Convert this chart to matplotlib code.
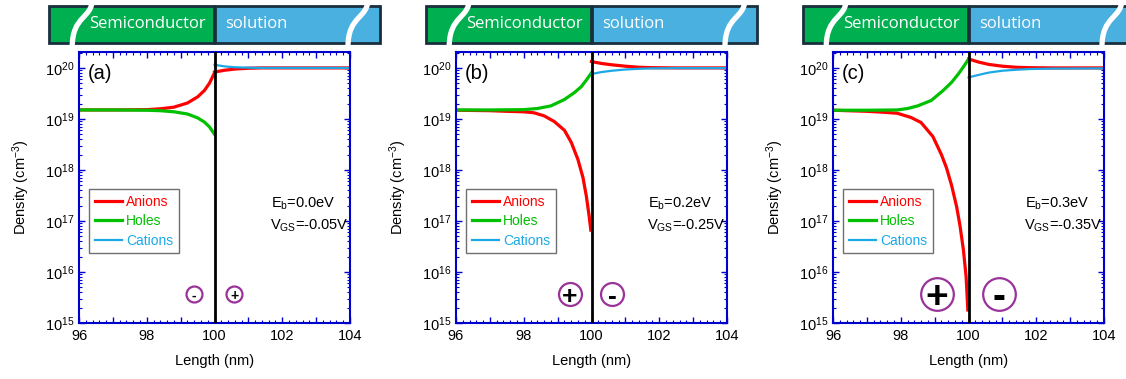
import matplotlib
matplotlib.use("Agg")
import matplotlib.pyplot as plt
from matplotlib.path import Path
from matplotlib.patches import PathPatch, Rectangle

plt.rcParams['font.family'] = ['Liberation Sans', 'DejaVu Sans']
plt.rcParams['mathtext.fontset'] = 'custom'
plt.rcParams['mathtext.rm'] = 'Liberation Sans'
plt.rcParams['mathtext.it'] = 'Liberation Sans:italic'
plt.rcParams['mathtext.bf'] = 'Liberation Sans:bold'

# ---- data ----
panel_tags = ["(a)", "(b)", "(c)"]
eb_labels = ["E$_\\mathrm{b}$=0.0eV", "E$_\\mathrm{b}$=0.2eV", "E$_\\mathrm{b}$=0.3eV"]
vgs_labels = ["V$_\\mathrm{GS}$=-0.05V", "V$_\\mathrm{GS}$=-0.25V", "V$_\\mathrm{GS}$=-0.35V"]
left_signs = ["-", "+", "+"]
right_signs = ["+", "-", "-"]

# semiconductor side (x < 100 nm)
x_holes = [
    [96, 97, 98, 98.4, 98.8, 99.2, 99.5, 99.7, 99.85, 100],
    [96, 97, 98, 98.4, 98.8, 99.2, 99.5, 99.7, 99.85, 100],
    [96, 97, 97.9, 98.2, 98.5, 98.9, 99.25, 99.5, 99.7, 99.85, 100],
]
holes = [
    [1.5e19, 1.5e19, 1.48e19, 1.45e19, 1.38e19, 1.25e19, 1.05e19, 8.7e18, 7e18, 5e18],
    [1.5e19, 1.5e19, 1.52e19, 1.6e19, 1.8e19, 2.4e19, 3.3e19, 4.3e19, 5.8e19, 8e19],
    [1.48e19, 1.48e19, 1.5e19, 1.6e19, 1.8e19, 2.3e19, 3.6e19, 5.2e19, 7.6e19, 1.05e20, 1.48e20],
]
x_anions_sc = [
    [96, 97, 98, 98.4, 98.8, 99.2, 99.5, 99.7, 99.85, 100],
    [96, 97, 97.5, 98, 98.3, 98.6, 98.9, 99.2, 99.4, 99.6, 99.75, 99.85, 99.93, 99.98],
    [96, 97, 97.5, 97.9, 98.3, 98.6, 98.95, 99.2, 99.35, 99.5, 99.65, 99.75, 99.85, 99.93, 99.98],
]
anions_sc = [
    [1.5e19, 1.5e19, 1.52e19, 1.58e19, 1.7e19, 2.05e19, 2.7e19, 3.6e19, 5e19, 8e19],
    [1.48e19, 1.45e19, 1.41e19, 1.38e19, 1.32e19, 1.15e19, 8.9e18, 6e18, 3.5e18, 1.6e18,
     7e17, 3e17, 1.25e17, 6.6e16],
    [1.48e19, 1.41e19, 1.35e19, 1.29e19, 1.07e19, 8.5e18, 4.5e18, 2e18, 1.1e18, 5e17,
     1.9e17, 8e16, 2.7e16, 8e15, 1.8e15],
]

# solution side (x > 100 nm)
x_sol = [100, 100.3, 100.6, 101, 101.4, 101.8, 102.5, 104]
anions_sol = [
    [8.3e19, 9e19, 9.5e19, 9.85e19, 1e20, 1e20, 1e20, 1e20],
    [1.33e20, 1.22e20, 1.15e20, 1.08e20, 1.03e20, 1.01e20, 1e20, 1e20],
    [1.5e20, 1.3e20, 1.17e20, 1.08e20, 1.03e20, 1.01e20, 1e20, 1e20],
]
cations_sol = [
    [1.15e20, 1.07e20, 1.03e20, 1.01e20, 1e20, 1e20, 1e20, 1e20],
    [7.6e19, 8.3e19, 8.8e19, 9.3e19, 9.6e19, 9.8e19, 9.9e19, 9.9e19],
    [6.5e19, 7.3e19, 8.1e19, 8.8e19, 9.2e19, 9.5e19, 9.7e19, 9.8e19],
]

# ---- styling ----
RED = "#ff0000"
GREEN = "#00c000"
CYAN = "#1aa9e6"
SPINE = "#0000cc"
PURPLE = "#993399"
BAN_GREEN = "#00b050"
BAN_BLUE = "#4ab0e0"
BAN_EDGE = "#1a2f3d"

W, H = 1126, 379
fig = plt.figure(figsize=(W / 100, H / 100), dpi=100)

ax_lefts = [79, 456, 833]
ax_w, ax_top, ax_bot = 271, 52, 323
circ_pos = [(0.424, 0.572), (0.421, 0.576), (0.384, 0.613)]
circ_ms = [11.5, 16.5, 23.5]
sign_fs = [10, 19, 28]

for i in range(3):
    l = ax_lefts[i]
    ax = fig.add_axes([l / W, (H - ax_bot) / H, ax_w / W, (ax_bot - ax_top) / H])

    ax.plot(x_anions_sc[i], anions_sc[i], color=RED, lw=2.3, label="Anions")
    ax.plot(x_sol, anions_sol[i], color=RED, lw=2.3)
    ax.plot(x_holes[i], holes[i], color=GREEN, lw=2.3, label="Holes")
    ax.plot(x_sol, cations_sol[i], color=CYAN, lw=1.6, label="Cations")
    ax.axvline(100, color="black", lw=2, zorder=5)

    ax.set_yscale("log")
    ax.set_xlim(96, 104)
    ax.set_ylim(1e15, 2.05e20)
    ax.set_xticks([96, 97, 98, 99, 100, 101, 102, 103, 104])
    ax.set_xticklabels(["96", "", "98", "", "100", "", "102", "", "104"])
    ax.set_xticks([96 + 0.2 * k for k in range(41)], minor=True)
    for s in ax.spines.values():
        s.set_color(SPINE)
        s.set_linewidth(1.5)
    ax.tick_params(which="both", direction="in", top=True, right=True, color=SPINE,
                   labelsize=10.5, labelcolor="black")
    ax.tick_params(which="major", length=4.5, width=1)
    ax.tick_params(which="minor", length=2.5, width=0.8)
    ax.tick_params(axis="x", pad=4.5)
    ax.tick_params(axis="y", pad=3.5)

    ax.set_xlabel("Length (nm)", fontsize=10.5)
    ax.set_ylabel("Density (cm$^{-3}$)", fontsize=10.5)
    ax.xaxis.set_label_coords(0.5, -0.115)
    ax.yaxis.set_label_coords(-0.175, 0.5)

    ax.text(0.033, 0.919, panel_tags[i], transform=ax.transAxes, fontsize=14.5,
            ha="left", va="center")
    ax.text(0.707, 0.439, eb_labels[i], transform=ax.transAxes, fontsize=10.5,
            ha="left", va="center")
    ax.text(0.705, 0.358, vgs_labels[i], transform=ax.transAxes, fontsize=10.5,
            ha="left", va="center")

    leg = ax.legend(loc="upper left", bbox_to_anchor=(0.037, 0.494), fontsize=10,
                    fancybox=False, edgecolor="#707070", framealpha=1,
                    handlelength=2.0, handletextpad=0.25, labelspacing=0.4,
                    borderpad=0.4, borderaxespad=0)
    leg.get_frame().set_linewidth(1)
    for txt, c in zip(leg.get_texts(), [RED, GREEN, CYAN]):
        txt.set_color(c)

    # charge markers
    for xp, sgn in zip(circ_pos[i], [left_signs[i], right_signs[i]]):
        ax.plot([xp], [0.107], marker="o", ms=circ_ms[i], mfc="white", mec=PURPLE,
                mew=1.6, transform=ax.transAxes, clip_on=False, zorder=6)
        ax.text(xp, 0.107, sgn, transform=ax.transAxes, fontsize=sign_fs[i],
                fontweight="bold", ha="center", va="center_baseline", zorder=7)

    # banner above the panel
    bx = fig.add_axes([l / W, (H - 50) / H, ax_w / W, 50 / H])
    bx.set_xlim(96, 104)
    bx.set_ylim(50, 0)
    bx.axis("off")
    bx.add_patch(Rectangle((95.12, 6), 100 - 95.12, 37, facecolor=BAN_GREEN,
                           edgecolor=BAN_EDGE, lw=2, clip_on=False))
    bx.add_patch(Rectangle((100, 6), 104.88 - 100, 37, facecolor=BAN_BLUE,
                           edgecolor=BAN_EDGE, lw=2, clip_on=False))
    bx.text(96.3, 24.5, "Semiconductor", color="white", fontsize=12,
            family="Open Sans", ha="left", va="center")
    bx.text(100.31, 24.5, "solution", color="white", fontsize=12,
            family="Open Sans", ha="left", va="center")
    for x0, x1 in [(96.39, 95.8), (104.53, 103.94)]:
        p = Path([(x0, -1), (x0, 19), (x1, 15), (x1, 47)],
                 [Path.MOVETO, Path.CURVE4, Path.CURVE4, Path.CURVE4])
        bx.add_patch(PathPatch(p, facecolor="none", edgecolor="white", lw=3.8,
                               clip_on=False, zorder=5))

fig.savefig("out.png", dpi=100)
